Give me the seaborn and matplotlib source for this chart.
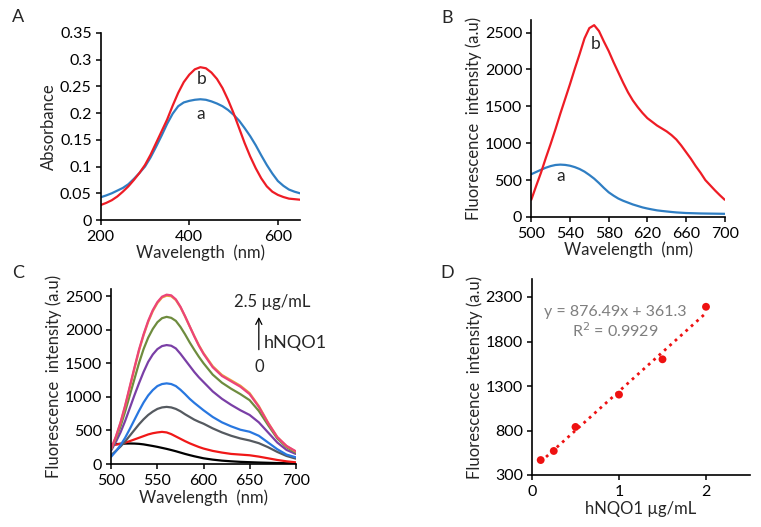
import numpy as np
import pandas as pd
import matplotlib
matplotlib.use("Agg")
import matplotlib.pyplot as plt
import seaborn as sns

# ---- data ----
# Panel A: absorbance spectra
wl_abs = [200, 212.5, 225, 237.5, 250, 262.5, 275, 287.5, 300, 312.5, 325, 337.5, 350, 362.5, 375, 387.5,
          400, 412.5, 425, 437.5, 450, 462.5, 475, 487.5, 500, 512.5, 525, 537.5, 550, 562.5, 575, 587.5,
          600, 612.5, 625, 637.5, 650]
abs_a = [0.0425, 0.046, 0.050, 0.055, 0.060, 0.067, 0.077, 0.088, 0.100, 0.117, 0.137, 0.158, 0.180, 0.199,
         0.213, 0.220, 0.223, 0.225, 0.226, 0.225, 0.222, 0.218, 0.213, 0.206, 0.197, 0.186, 0.172, 0.157,
         0.140, 0.121, 0.103, 0.087, 0.073, 0.064, 0.057, 0.053, 0.050]
abs_b = [0.028, 0.032, 0.037, 0.044, 0.053, 0.063, 0.075, 0.088, 0.103, 0.122, 0.144, 0.166, 0.188, 0.214,
         0.238, 0.258, 0.272, 0.282, 0.286, 0.284, 0.276, 0.264, 0.247, 0.225, 0.200, 0.172, 0.144, 0.119,
         0.097, 0.078, 0.063, 0.053, 0.047, 0.043, 0.040, 0.039, 0.038]

# Panel B: fluorescence spectra
wl_fl = [500, 505, 510, 515, 520, 525, 530, 535, 540, 545, 550, 555, 560, 565, 570, 575, 580, 585, 590, 595,
         600, 605, 610, 615, 620, 625, 630, 635, 640, 645, 650, 655, 660, 665, 670, 675, 680, 685, 690, 695, 700]
fl_a = [580, 610, 640, 668, 690, 705, 710, 706, 695, 676, 650, 615, 570, 520, 460, 395, 335, 290, 250, 220,
        195, 170, 150, 130, 115, 102, 90, 82, 75, 68, 62, 58, 54, 52, 50, 48, 47, 46, 45, 44, 43]
fl_b = [234, 420, 600, 800, 990, 1190, 1400, 1600, 1800, 2010, 2210, 2420, 2560, 2600, 2520, 2380, 2250, 2100,
        1960, 1820, 1690, 1580, 1490, 1410, 1340, 1290, 1240, 1200, 1160, 1110, 1050, 970, 880, 790, 690, 600,
        500, 430, 360, 295, 234]

# Panel C: fluorescence vs hNQO1 concentration (0 -> 2.5 ug/mL)
wl_c = [500, 505, 510, 515, 520, 525, 530, 535, 540, 545, 550, 555, 560, 565, 570, 575, 580, 585, 590, 595,
        600, 610, 620, 630, 640, 650, 660, 670, 680, 690, 700]
conc_labels = ["0", "0.1", "0.25", "0.5", "1", "1.5", "2", "2.5"]
fl_c = {
    "0":    [290, 296, 300, 304, 305, 304, 300, 292, 280, 268, 255, 240, 225, 208, 190, 170, 150, 132, 115, 100,
             85, 65, 50, 40, 32, 27, 22, 18, 14, 12, 10],
    "0.1":  [280, 288, 300, 318, 340, 365, 390, 415, 440, 458, 470, 478, 470, 445, 410, 375, 340, 308, 280, 253,
             230, 195, 170, 150, 140, 130, 110, 85, 60, 40, 25],
    "0.25": [135, 195, 260, 335, 420, 505, 590, 665, 730, 780, 820, 842, 850, 842, 820, 785, 740, 700, 660, 628,
             600, 530, 470, 420, 380, 350, 310, 250, 180, 120, 80],
    "0.5":  [110, 190, 280, 390, 520, 655, 790, 915, 1020, 1100, 1160, 1190, 1200, 1190, 1160, 1105, 1040, 970,
             910, 855, 800, 700, 620, 560, 510, 480, 420, 320, 220, 140, 100],
    "1":    [205, 330, 470, 640, 830, 1020, 1200, 1370, 1520, 1630, 1710, 1755, 1770, 1760, 1720, 1640, 1550,
             1460, 1370, 1290, 1220, 1080, 970, 880, 800, 730, 620, 470, 320, 210, 150],
    "1.5":  [220, 380, 560, 780, 1020, 1260, 1500, 1710, 1880, 2010, 2110, 2170, 2190, 2175, 2130, 2040, 1930,
             1810, 1700, 1595, 1500, 1330, 1210, 1120, 1040, 950, 790, 580, 380, 250, 170],
    "2":    [230, 403, 610, 858, 1135, 1413, 1685, 1915, 2115, 2275, 2395, 2478, 2505, 2497, 2440, 2333, 2195,
             2048, 1905, 1768, 1650, 1455, 1325, 1245, 1165, 1055, 862, 617, 402, 266, 186],
    "2.5":  [235, 410, 620, 870, 1150, 1430, 1700, 1930, 2130, 2290, 2410, 2490, 2520, 2510, 2450, 2340, 2200,
             2050, 1900, 1760, 1640, 1440, 1310, 1230, 1150, 1040, 850, 610, 400, 270, 190],
}
c_colors = ["#000000", "#f01818", "#555a60", "#2877e0", "#7a3fa6", "#6e8c3e", "#e8a23a", "#ec4479"]

# Panel D: calibration
conc_d = [0.1, 0.25, 0.5, 1.0, 1.5, 2.0]
fl_d = [468, 570, 840, 1203, 1600, 2190]

RED = "#ee1c25"
BLUE = "#2f7ec3"

sns.set_style("ticks")
plt.rcParams['font.family'] = ['Lato', 'DejaVu Sans']
plt.rcParams['font.size'] = 11
plt.rcParams['axes.linewidth'] = 1.2
plt.rcParams['xtick.major.size'] = 3.5
plt.rcParams['ytick.major.size'] = 3.5
plt.rcParams['xtick.major.width'] = 1.1
plt.rcParams['ytick.major.width'] = 1.1
plt.rcParams['xtick.labelsize'] = 11.5
plt.rcParams['ytick.labelsize'] = 11.5

fig = plt.figure(figsize=(7.61, 5.27), dpi=100)
W, H = 761, 527


def add_ax(left, right, bottom, top):
    return fig.add_axes([left / W, 1 - bottom / H, (right - left) / W, (bottom - top) / H])


def style(ax):
    sns.despine(ax=ax)
    ax.tick_params(axis='x', direction='out', colors='black', pad=4)
    ax.tick_params(axis='y', direction='out', colors='black', pad=3)
    for s in ['left', 'bottom']:
        ax.spines[s].set_color('black')


lw = 1.6
LABEL_FS = 12

# ---- A ----
axA = add_ax(100.7, 300, 220, 33)
dfA = pd.DataFrame({"wl": wl_abs, "a": abs_a, "b": abs_b})
sns.lineplot(data=dfA, x="wl", y="a", color=BLUE, lw=lw, ax=axA)
sns.lineplot(data=dfA, x="wl", y="b", color=RED, lw=lw, ax=axA)
axA.set_xlim(200, 650)
axA.set_ylim(0, 0.35)
axA.set_xticks([200, 400, 600])
axA.set_yticks([0, 0.05, 0.1, 0.15, 0.2, 0.25, 0.3, 0.35])
axA.set_yticklabels(["0", "0.05", "0.1", "0.15", "0.2", "0.25", "0.3", "0.35"])
axA.set_xlabel("Wavelength  (nm)", fontsize=LABEL_FS, labelpad=0)
axA.set_ylabel("Absorbance", fontsize=LABEL_FS, labelpad=2)
axA.text(429, 0.264, "b", ha='center', va='center', fontsize=12.5)
axA.text(426, 0.199, "a", ha='center', va='center', fontsize=12.5)
style(axA)

# ---- B ----
axB = add_ax(531.3, 724.7, 217, 20)
dfB = pd.DataFrame({"wl": wl_fl, "a": fl_a, "b": fl_b})
sns.lineplot(data=dfB, x="wl", y="a", color=BLUE, lw=lw, ax=axB)
sns.lineplot(data=dfB, x="wl", y="b", color=RED, lw=lw, ax=axB)
axB.set_xlim(500, 700)
axB.set_ylim(0, 2670)
axB.set_xticks([500, 540, 580, 620, 660, 700])
axB.set_yticks([0, 500, 1000, 1500, 2000, 2500])
axB.set_xlabel("Wavelength  (nm)", fontsize=LABEL_FS, labelpad=0)
axB.set_ylabel("Fluorescence  intensity (a.u)", fontsize=LABEL_FS, labelpad=2)
axB.text(567, 2340, "b", ha='center', va='center', fontsize=12.5)
axB.text(530, 550, "a", ha='center', va='center', fontsize=12.5)
style(axB)

# ---- C ----
axC = add_ax(111.3, 295.7, 464, 289.3)
dfC = pd.DataFrame({"wl": np.tile(wl_c, len(conc_labels)),
                    "conc": np.repeat(conc_labels, len(wl_c)),
                    "fl": np.concatenate([fl_c[k] for k in conc_labels])})
sns.lineplot(data=dfC, x="wl", y="fl", hue="conc", hue_order=conc_labels,
             palette=c_colors, lw=lw, legend=False, ax=axC)
axC.set_xlim(500, 700)
axC.set_ylim(0, 2600)
axC.set_xticks([500, 550, 600, 650, 700])
axC.set_yticks([0, 500, 1000, 1500, 2000, 2500])
axC.set_xlabel("Wavelength  (nm)", fontsize=LABEL_FS, labelpad=1)
axC.set_ylabel("Fluorescence  intensity (a.u)", fontsize=LABEL_FS, labelpad=2)
axC.text(633, 2410, "2.5 µg/mL", ha='left', va='center', fontsize=12)
axC.annotate("", xy=(660, 2230), xytext=(660, 1660),
             arrowprops=dict(arrowstyle='->', color='black', lw=0.9))
axC.text(665, 1800, "hNQO1", ha='left', va='center', fontsize=13)
axC.text(660, 1450, "0", ha='center', va='center', fontsize=12)
style(axC)

# ---- D ----
axD = add_ax(532, 749.5, 475, 279.2)
dfD = pd.DataFrame({"conc": conc_d, "fl": fl_d})
sns.regplot(data=dfD, x="conc", y="fl", ci=None, truncate=True, ax=axD,
            color="#ee1111",
            scatter_kws=dict(s=32, edgecolor='none', alpha=1),
            line_kws=dict(ls=(0, (1, 1.6)), lw=2.0))
axD.set_xlim(0, 2.5)
axD.set_ylim(300, 2500)
axD.set_xticks([0, 1, 2])
axD.set_yticks([300, 800, 1300, 1800, 2300])
axD.set_xlabel("hNQO1 µg/mL", fontsize=LABEL_FS, labelpad=1)
axD.set_ylabel("Fluorescence  intensity (a.u)", fontsize=LABEL_FS, labelpad=2)
axD.text(0.956, 2135, "y = 876.49x + 361.3", ha='center', va='center', fontsize=11.5, color='#7f7f7f')
axD.text(0.956, 1921, "R$^2$ = 0.9929", ha='center', va='center', fontsize=11.5, color='#7f7f7f')
style(axD)

# panel letters
for letter, (px, py) in {"A": (18, 17), "B": (447, 18), "C": (18, 273), "D": (447, 273)}.items():
    fig.text(px / W, 1 - py / H, letter, ha='center', va='center', fontsize=13)

fig.savefig("out.png", dpi=100)
